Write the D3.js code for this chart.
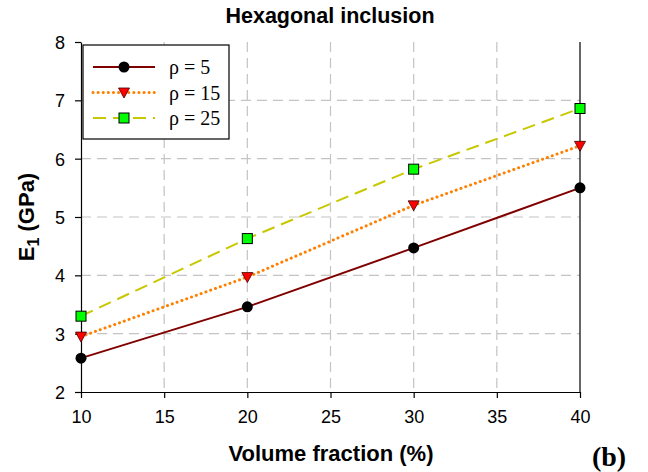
<!DOCTYPE html>
<html lang="en">
<head>
    <meta charset="UTF-8" />
    <title>Hexagonal inclusion</title>
    <script src="https://d3js.org/d3.v7.min.js"></script>
    <style>
        body { margin: 0; background: #fff; }
        svg text { font-family: Arial, "Liberation Sans", sans-serif; }
        svg text.serif { font-family: "Liberation Serif", "Times New Roman", serif; }
    </style>
</head>
<body>
<svg id="chart" width="648" height="472"></svg>
<script>
    // data
    const fractions = [10, 20, 30, 40];
    const rho5 = [2.58, 3.46, 4.47, 5.50];
    const rho15 = [2.95, 3.97, 5.20, 6.22];
    const rho25 = [3.30, 4.63, 5.82, 6.86];
    const seriesLabels = ["ρ = 5", "ρ = 15", "ρ = 25"];
    const xTicks = [10, 15, 20, 25, 30, 35, 40];
    const yTicks = [2, 3, 4, 5, 6, 7, 8];

    const series = [
        { label: seriesLabels[0], values: rho5, color: "#800000", dash: null, cap: "butt", marker: "circle" },
        { label: seriesLabels[1], values: rho15, color: "#ff8000", dash: "0.1,5", cap: "round", marker: "triangle" },
        { label: seriesLabels[2], values: rho25, color: "#c8c800", dash: "13,7", cap: "butt", marker: "square" }
    ];

    const svg = d3.select("#chart");
    const plotLeft = 81, plotRight = 580, plotTop = 42, plotBottom = 392;

    const x = d3.scaleLinear().domain([10, 40]).range([plotLeft, plotRight]);
    const y = d3.scaleLinear().domain([2, 8]).range([plotBottom, plotTop]);

    // grid
    svg.append("g").selectAll("line")
        .data(yTicks.slice(1, -1))
        .join("line")
        .attr("x1", plotLeft).attr("x2", plotRight)
        .attr("y1", d => y(d)).attr("y2", d => y(d))
        .attr("stroke", "#c4c4c4").attr("stroke-width", 1.2)
        .attr("stroke-dasharray", "10,6");
    svg.append("g").selectAll("line")
        .data(xTicks.slice(1, -1))
        .join("line")
        .attr("x1", d => x(d)).attr("x2", d => x(d))
        .attr("y1", plotTop).attr("y2", plotBottom)
        .attr("stroke", "#c4c4c4").attr("stroke-width", 1.2)
        .attr("stroke-dasharray", "10,6");

    // right border
    svg.append("line")
        .attr("x1", plotRight).attr("x2", plotRight)
        .attr("y1", plotTop).attr("y2", plotBottom)
        .attr("stroke", "#000").attr("stroke-width", 1.2);

    // axes
    const xAxis = svg.append("g")
        .attr("transform", `translate(0,${plotBottom})`)
        .call(d3.axisBottom(x).tickValues(xTicks).tickFormat(d3.format("d"))
            .tickSize(6).tickPadding(12).tickSizeOuter(0));
    const yAxis = svg.append("g")
        .attr("transform", `translate(${plotLeft},0)`)
        .call(d3.axisLeft(y).tickValues(yTicks).tickFormat(d3.format("d"))
            .tickSize(6).tickPadding(10).tickSizeOuter(0));
    [xAxis, yAxis].forEach(a => {
        a.attr("font-size", null).attr("font-family", null);
        a.select(".domain").attr("stroke", "#000").attr("stroke-width", 1.2);
        a.selectAll(".tick line").attr("stroke", "#000").attr("stroke-width", 1.2);
        a.selectAll(".tick text").style("font-size", "18px").attr("fill", "#000");
    });
    yAxis.selectAll(".tick text").attr("dy", "0.36em");

    // lines
    const line = d3.line()
        .x((d, i) => x(fractions[i]))
        .y(d => y(d));

    function drawMarker(g, type, cx, cy) {
        if (type === "circle") {
            g.append("circle").attr("cx", cx).attr("cy", cy).attr("r", 5.5)
                .attr("fill", "#000");
        } else if (type === "triangle") {
            g.append("path")
                .attr("d", `M${cx - 5.5},${cy - 4.5}L${cx + 5.5},${cy - 4.5}L${cx},${cy + 5.5}Z`)
                .attr("fill", "#ff0000").attr("stroke", "#400000").attr("stroke-width", 0.8);
        } else {
            g.append("rect").attr("x", cx - 5).attr("y", cy - 5)
                .attr("width", 10).attr("height", 10)
                .attr("fill", "#00ff00").attr("stroke", "#000").attr("stroke-width", 1);
        }
    }

    series.forEach(s => {
        svg.append("path")
            .attr("d", line(s.values))
            .attr("fill", "none")
            .attr("stroke", s.color)
            .attr("stroke-width", s.marker === "triangle" ? 3 : 2)
            .attr("stroke-linecap", s.cap)
            .attr("stroke-dasharray", s.dash);
        const g = svg.append("g");
        s.values.forEach((v, i) => drawMarker(g, s.marker, x(fractions[i]), y(v)));
    });

    // legend
    const legend = svg.append("g");
    legend.append("rect")
        .attr("x", 83).attr("y", 45).attr("width", 146).attr("height", 94)
        .attr("fill", "#fff").attr("stroke", "#000").attr("stroke-width", 1.2);
    series.forEach((s, i) => {
        const ly = 67 + i * 25.5;
        legend.append("line")
            .attr("x1", 93).attr("x2", 155).attr("y1", ly).attr("y2", ly)
            .attr("stroke", s.color)
            .attr("stroke-width", s.marker === "triangle" ? 3 : 2)
            .attr("stroke-linecap", s.cap)
            .attr("stroke-dasharray", s.dash);
        drawMarker(legend, s.marker, 124, ly);
        legend.append("text")
            .attr("class", "serif")
            .attr("x", 169).attr("y", ly + 7)
            .style("font-size", "20px")
            .text(s.label);
    });

    // titles
    svg.append("text")
        .attr("x", 330).attr("y", 23)
        .attr("text-anchor", "middle")
        .style("font-size", "21.5px").attr("font-weight", "bold")
        .text("Hexagonal inclusion");

    svg.append("text")
        .attr("x", 331).attr("y", 461)
        .attr("text-anchor", "middle")
        .style("font-size", "22px").attr("font-weight", "bold")
        .text("Volume fraction (%)");

    const yl = svg.append("text")
        .attr("transform", `translate(34,${(plotTop + plotBottom) / 2}) rotate(-90)`)
        .attr("text-anchor", "middle")
        .style("font-size", "22px").attr("font-weight", "bold");
    yl.append("tspan").text("E");
    yl.append("tspan").attr("dy", 5).style("font-size", "16px").text("1");
    yl.append("tspan").attr("dy", -5).text(" (GPa)");

    svg.append("text")
        .attr("class", "serif")
        .attr("x", 609).attr("y", 466)
        .attr("text-anchor", "middle")
        .style("font-size", "28px").attr("font-weight", "bold")
        .text("(b)");
</script>
</body>
</html>
